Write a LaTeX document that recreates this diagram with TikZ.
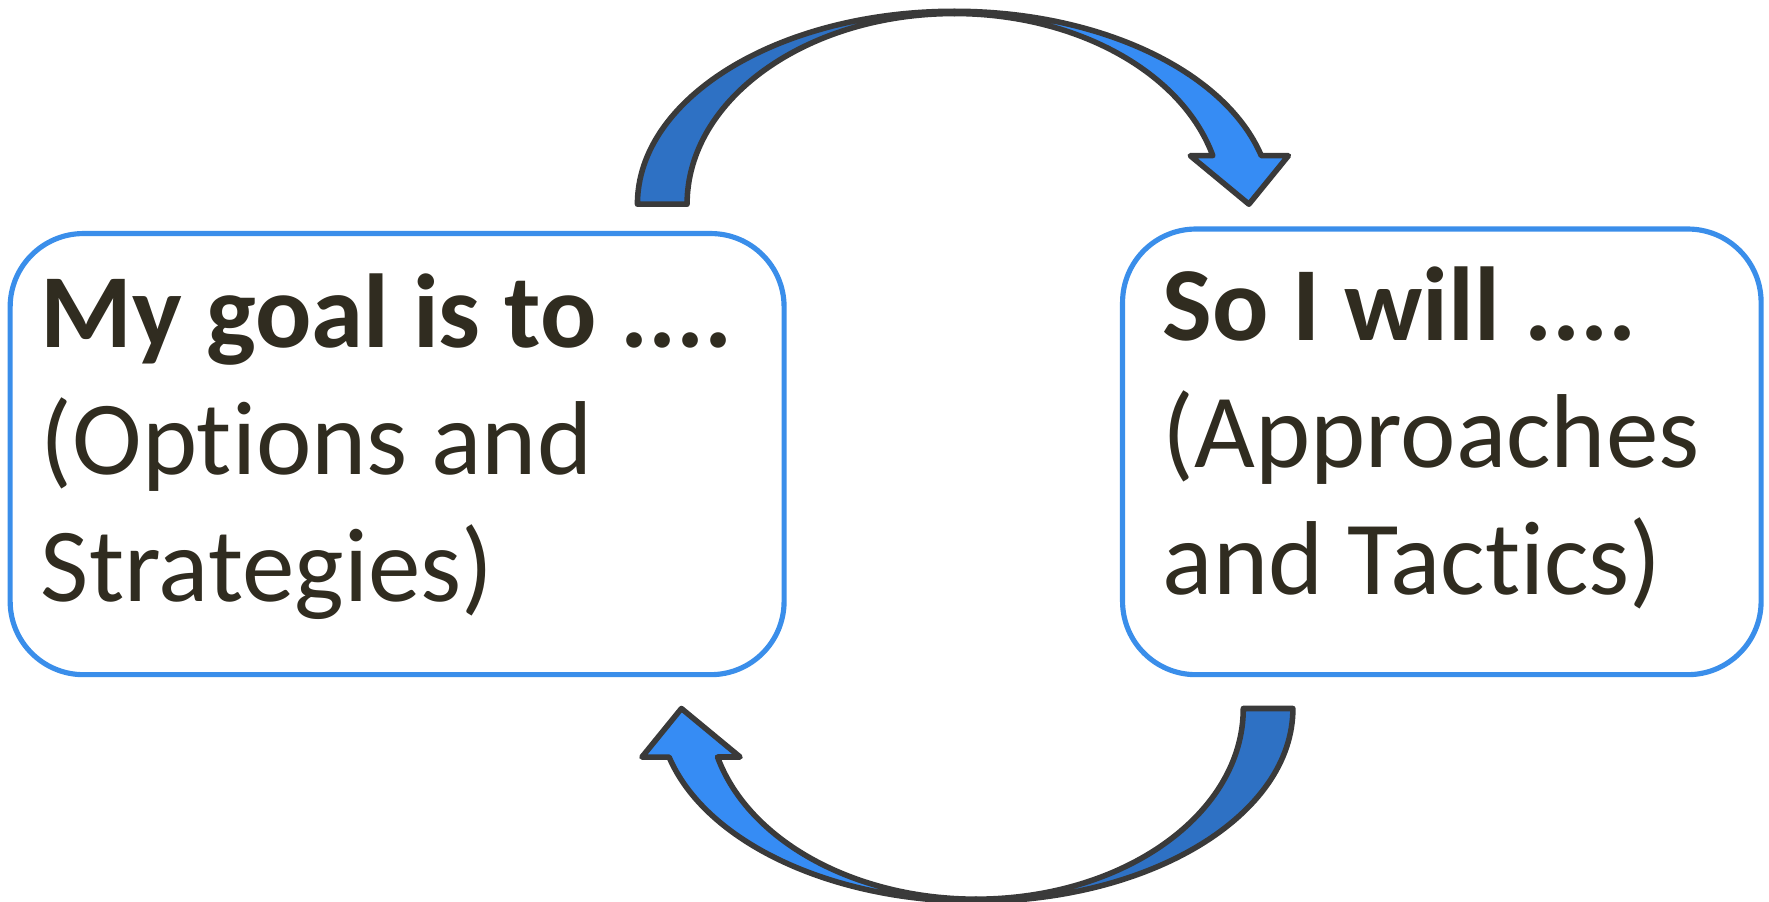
\documentclass[tikz,border=0pt]{standalone}
\usepackage{fontspec}
\setmainfont[Ligatures=NoCommon]{Carlito}
\definecolor{boxblue}{RGB}{58,142,234}
\definecolor{backblue}{RGB}{46,113,196}
\definecolor{frontblue}{RGB}{54,140,244}
\definecolor{edgegray}{RGB}{58,58,58}
\definecolor{inkdark}{RGB}{48,44,32}
\begin{document}
\begin{tikzpicture}[
    planbox/.style={draw=boxblue, line width=1.3pt, rounded corners=0.65cm, inner sep=0pt},
    txt/.style={text=inkdark, align=left, inner sep=0pt, font=\fontsize{26.5}{32}\selectfont},
    back/.style={fill=backblue, draw=edgegray, line width=1.4pt, line join=round},
    front/.style={fill=frontblue, draw=edgegray, line width=1.4pt, line join=round}
]
    \useasboundingbox (0,0) rectangle (15.68,7.99);

    % Boxes
    \node[planbox, minimum width=6.86cm, minimum height=3.91cm] (goal) at (3.52,3.965) {};
    \node[planbox, minimum width=5.66cm, minimum height=3.95cm] (will) at (12.78,3.985) {};

    \node[txt, anchor=base west] (goaltext) at (0.355,2.66) {\textbf{My goal is to ....}\\(Options and\\Strategies)};
    \node[txt, anchor=base west] (willtext) at (10.30,2.72) {\textbf{So I will ....}\\(Approaches\\and Tactics)};

    % Top arrow (goal -> will)
    \begin{scope}
        \draw[back] (5.65,6.18) arc[start angle=180, end angle=90, x radius=2.81, y radius=1.71]
            -- (8.46,7.87) arc[start angle=90, end angle=180, x radius=2.37, y radius=1.69] -- cycle;
        \draw[front] (8.46,7.89) arc[start angle=90, end angle=14.57, x radius=2.81, y radius=1.71]
            -- (11.42,6.61) -- (11.07,6.18) -- (10.55,6.61) -- (10.75,6.61)
            arc[start angle=14.74, end angle=90, x radius=2.37, y radius=1.69] -- cycle;
    \end{scope}

    % Bottom arrow (will -> goal)
    \begin{scope}[rotate around={180:(8.555,3.945)}]
        \draw[back] (5.65,6.18) arc[start angle=180, end angle=90, x radius=2.81, y radius=1.71]
            -- (8.46,7.87) arc[start angle=90, end angle=180, x radius=2.37, y radius=1.69] -- cycle;
        \draw[front] (8.46,7.89) arc[start angle=90, end angle=14.57, x radius=2.81, y radius=1.71]
            -- (11.42,6.61) -- (11.07,6.18) -- (10.55,6.61) -- (10.75,6.61)
            arc[start angle=14.74, end angle=90, x radius=2.37, y radius=1.69] -- cycle;
    \end{scope}
\end{tikzpicture}
\end{document}
